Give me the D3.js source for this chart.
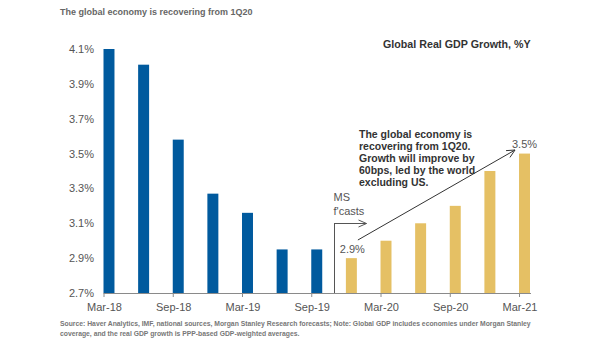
<!DOCTYPE html>
<html><head><meta charset="utf-8">
<script src="https://cdn.jsdelivr.net/npm/d3@7"></script>
<style>
body{margin:0;background:#fff;}
svg{display:block;font-family:"Liberation Sans",Arial,sans-serif;}
</style></head>
<body><svg id="c" width="605" height="341"></svg>
<script>
const quarters = ["Mar-18","Jun-18","Sep-18","Dec-18","Mar-19","Jun-19","Sep-19","Dec-19","Mar-20","Jun-20","Sep-20","Dec-20","Mar-21"];
const growth = [4.1,4.01,3.58,3.27,3.16,2.95,2.95,2.9,3.0,3.1,3.2,3.4,3.5];
const forecast = [false,false,false,false,false,false,false,true,true,true,true,true,true];
const yTicks = [2.7,2.9,3.1,3.3,3.5,3.7,3.9,4.1];
const xTickLabels = ["Mar-18","Sep-18","Mar-19","Sep-19","Mar-20","Sep-20","Mar-21"];
const title = "The global economy is recovering from 1Q20";
const chartTitle = "Global Real GDP Growth, %Y";
const note = ["The global economy is","recovering from 1Q20.","Growth will improve by","60bps, led by the world","excluding US."];
const footnote = ["Source: Haver Analytics, IMF, national sources, Morgan Stanley Research forecasts; Note: Global GDP includes economies under Morgan Stanley","coverage, and the real GDP growth is PPP-based GDP-weighted averages."];

const svg = d3.select("#c");
const x = d3.scaleBand().domain(quarters).range([103.5, 530]).paddingInner(0.683).paddingOuter(0).align(0);
const y = d3.scaleLinear().domain([2.7, 4.1]).range([293, 49]);

svg.append("text").attr("x",60).attr("y",15).attr("font-size",9).attr("font-weight","bold").attr("fill","#666").text(title);
svg.append("text").attr("x",383).attr("y",48).attr("font-size",10.7).attr("font-weight","bold").attr("fill","#333").text(chartTitle);

// y labels
svg.append("g").selectAll("text").data(yTicks).join("text")
  .attr("x",94).attr("y",d=>y(d)+4).attr("text-anchor","end").attr("font-size",11).attr("fill","#555")
  .text(d=>d.toFixed(1)+"%");

// bars
svg.append("g").selectAll("rect").data(quarters).join("rect")
  .attr("x",d=>x(d)).attr("width",x.bandwidth())
  .attr("y",(d,i)=>y(growth[i])).attr("height",(d,i)=>y(2.7)-y(growth[i]))
  .attr("fill",(d,i)=>forecast[i]?"#e5c064":"#005a9e");

// x axis
svg.append("line").attr("x1",x(quarters[0])).attr("x2",x(quarters[12])+x.bandwidth()+1).attr("y1",293.5).attr("y2",293.5).attr("stroke","#8a8a8a").attr("stroke-width",1);
const gx = svg.append("g");
gx.selectAll("line").data(xTickLabels).join("line")
  .attr("x1",d=>x(d)+0.5).attr("x2",d=>x(d)+0.5).attr("y1",293).attr("y2",297).attr("stroke","#8a8a8a");
gx.selectAll("text").data(xTickLabels).join("text")
  .attr("x",d=>x(d)+1).attr("y",311).attr("text-anchor","middle").attr("font-size",11).attr("fill","#555").text(d=>d);

// forecast separator
const sepX = Math.round((x("Sep-19")+x.bandwidth()+x("Dec-19"))/2)+0.5;
svg.append("line").attr("x1",sepX).attr("x2",sepX).attr("y1",223).attr("y2",293).attr("stroke","#555");
svg.append("line").attr("x1",sepX).attr("x2",sepX+32).attr("y1",223.5).attr("y2",223.5).attr("stroke","#555");
svg.append("path").attr("d",`M${sepX+24},220 L${sepX+32},223.5 L${sepX+24},227`).attr("fill","none").attr("stroke","#555");
svg.append("text").attr("x",sepX-1).attr("y",201).attr("font-size",11).attr("fill","#555").text("MS");
svg.append("text").attr("x",sepX-1).attr("y",215).attr("font-size",11).attr("fill","#555").text("f'casts");

// value labels
svg.append("text").attr("x",x("Dec-19")+x.bandwidth()/2+1).attr("y",y(2.9)-5).attr("text-anchor","middle").attr("font-size",11).attr("fill","#555").text("2.9%");
svg.append("text").attr("x",x("Mar-21")+x.bandwidth()/2).attr("y",y(3.5)-6).attr("text-anchor","middle").attr("font-size",11).attr("fill","#555").text("3.5%");

// trend arrow
const ax1 = x("Dec-19")+12, ay1 = 240, ax2 = x("Mar-21")-4, ay2 = 150;
svg.append("line").attr("x1",ax1).attr("y1",ay1).attr("x2",ax2).attr("y2",ay2).attr("stroke","#333").attr("stroke-width",1);
const ang = Math.atan2(ay2-ay1, ax2-ax1);
const hl = 9, ha = 0.45;
svg.append("path").attr("d",`M${ax2-hl*Math.cos(ang-ha)},${ay2-hl*Math.sin(ang-ha)} L${ax2},${ay2} L${ax2-hl*Math.cos(ang+ha)},${ay2-hl*Math.sin(ang+ha)}`)
  .attr("fill","none").attr("stroke","#333");

// annotation
svg.append("g").selectAll("text").data(note).join("text")
  .attr("x",359).attr("y",(d,i)=>137.5+i*12.1).attr("font-size",10.5).attr("font-weight","bold").attr("fill","#333").text(d=>d);

// footnote
svg.append("g").selectAll("text").data(footnote).join("text")
  .attr("x",60).attr("y",(d,i)=>326+i*9.5).attr("font-size",6.8).attr("font-weight","bold").attr("fill","#777").text(d=>d);
</script></body></html>
